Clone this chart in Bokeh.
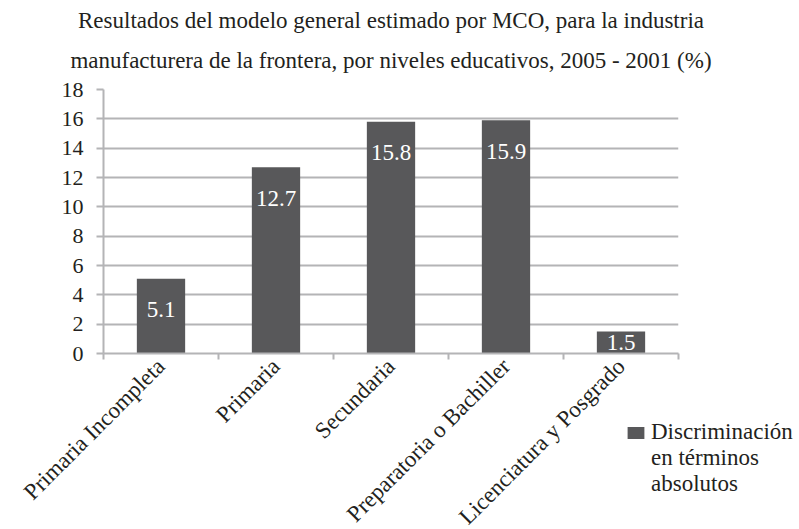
import math
from bokeh.plotting import figure
from bokeh.models import ColumnDataSource, FixedTicker, Title, Legend, LegendItem
from bokeh.embed import file_html
from bokeh.resources import INLINE
from bokeh.core.properties import value

# ---- data ----
categories = ["Primaria Incompleta", "Primaria", "Secundaria",
              "Preparatoria o Bachiller", "Licenciatura y Posgrado"]
values = [5.1, 12.7, 15.8, 15.9, 1.5]
y_ticks = [0, 2, 4, 6, 8, 10, 12, 14, 16, 18]
series_name = "Discriminación\nen términos\nabsolutos"
title_line1 = "Resultados del modelo general estimado por MCO, para la industria"
title_line2 = "manufacturera de la frontera, por niveles educativos, 2005 - 2001 (%)"

FONT = "'Liberation Serif', 'Times New Roman', serif"
BAR = "#58585a"
GRID = "#b4b4b6"
TEXT = "#231f20"

x = [i + 0.5 for i in range(len(categories))]
bounds = list(range(len(categories) + 1))
label_y = [v - 2.1 if v > 4.2 else v / 2 for v in values]
labels = [f"{v:.1f}" for v in values]
src = ColumnDataSource(dict(x=x, top=values, label_y=label_y, label=labels))

p = figure(frame_width=575, frame_height=264, x_range=(0, len(categories)), y_range=(0, 18),
           output_backend="svg", toolbar_location=None, title=None,
           min_border_left=103, min_border_right=120, min_border_top=89, min_border_bottom=175)
p.outline_line_color = None
p.background_fill_color = "white"

r = p.vbar(x="x", top="top", width=0.42, source=src, fill_color=BAR, line_color=None)
p.text(x="x", y="label_y", text="label", source=src, text_align="center",
       text_baseline="middle", text_color="white", text_font=value(FONT),
       text_font_size=value("23px"))

# x axis
p.xaxis.ticker = FixedTicker(ticks=x, minor_ticks=bounds)
p.xaxis.major_label_overrides = {xi: c for xi, c in zip(x, categories)}
p.xaxis.major_tick_line_color = None
p.xaxis.minor_tick_line_color = GRID
p.xaxis.minor_tick_line_width = 2
p.xaxis.minor_tick_out = 6
p.xaxis.minor_tick_in = 0
p.xaxis.major_label_orientation = math.pi / 4
p.xaxis.major_label_standoff = 3
p.xaxis.axis_line_color = GRID
p.xaxis.axis_line_width = 2
p.xaxis.major_label_text_font = FONT
p.xaxis.major_label_text_font_size = "23px"
p.xaxis.major_label_text_color = TEXT

# y axis
p.yaxis.ticker = FixedTicker(ticks=y_ticks)
p.yaxis.axis_line_color = GRID
p.yaxis.axis_line_width = 2
p.yaxis.major_tick_line_color = GRID
p.yaxis.major_tick_line_width = 2
p.yaxis.major_tick_out = 7
p.yaxis.major_tick_in = 0
p.yaxis.minor_tick_line_color = None
p.yaxis.major_label_standoff = 13
p.yaxis.major_label_text_font = FONT
p.yaxis.major_label_text_font_size = "22px"
p.yaxis.major_label_text_color = TEXT

p.xgrid.visible = False
p.ygrid.ticker = FixedTicker(ticks=y_ticks)
p.ygrid.grid_line_color = GRID
p.ygrid.grid_line_width = 2

# titles
p.add_layout(Title(text=title_line2, align="center", text_font=FONT, text_font_size="23px",
                   text_font_style="normal", text_color=TEXT, standoff=33), "above")
p.add_layout(Title(text=title_line1, align="center", text_font=FONT, text_font_size="23px",
                   text_font_style="normal", text_color=TEXT, standoff=-6), "above")

# legend: two empty leading lines keep the swatch level with the first text line
legend = Legend(items=[LegendItem(label="\n\n" + series_name, renderers=[r])], location=(-53, -144),
                padding=0, margin=-25, border_line_color=None, background_fill_alpha=0,
                glyph_width=21, glyph_height=15, label_standoff=5,
                label_text_font=FONT, label_text_font_size="23px", label_text_color=TEXT,
                label_text_line_height=1.0)
p.add_layout(legend, "right")

open("out.html", "w").write(file_html(p, INLINE))
